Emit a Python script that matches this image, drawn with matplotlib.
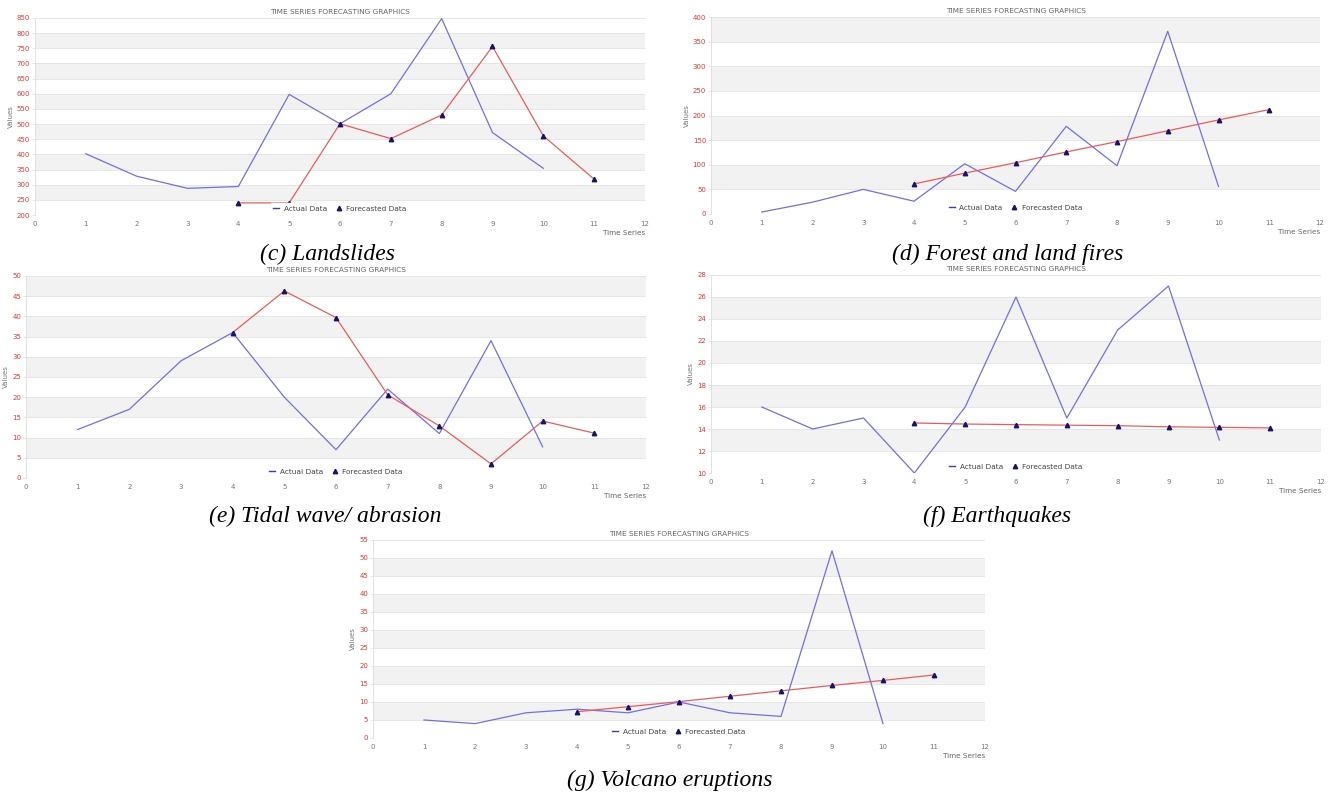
import numpy as np
import matplotlib
matplotlib.use('Agg')
import matplotlib.pyplot as plt
from matplotlib.lines import Line2D

### -------- data ---------------------------------------
x_actual = [1, 2, 3, 4, 5, 6, 7, 8, 9, 10]
x_forecast = [4, 5, 6, 7, 8, 9, 10, 11]

land_actual = [402, 328, 288, 294, 598, 501, 600, 848, 472, 354]
land_forecast = [240, 240, 501, 452, 530, 756, 461, 318]

fire_actual = [4, 24, 50, 26, 102, 46, 178, 98, 371, 56]
fire_forecast = [61, 83, 104, 126, 147, 169, 191, 212]

tidal_actual = [12, 17, 29, 36, 20, 7, 22, 11, 34, 7.7]
tidal_forecast = [36, 46.3, 39.7, 20.6, 12.9, 3.5, 14.1, 11.1]

quake_actual = [16, 14, 15, 10, 16, 26, 15, 23, 27, 13]
quake_forecast = [14.55, 14.45, 14.4, 14.35, 14.3, 14.2, 14.15, 14.1]

volc_actual = [5, 4, 7, 8, 7, 10, 7, 6, 52, 4]
volc_forecast = [7.3, 8.7, 10.1, 11.6, 13.1, 14.6, 16.0, 17.5]

captions = ['(c) Landslides', '(d) Forest and land fires', '(e) Tidal wave/ abrasion',
	'(f) Earthquakes', '(g) Volcano eruptions']

W, H = 1333, 795
TITLE = 'TIME SERIES FORECASTING GRAPHICS'


##### ----------------------
def panel(fig, box, actual, forecast, ymin, ymax, ystep):
	l, r, t, b = box
	ax = fig.add_axes([l/W, 1-b/H, (r-l)/W, (b-t)/H])
	ax.set_xlim(0, 12)
	ax.set_ylim(ymin, ymax)

	yt = np.arange(ymin, ymax + ystep/2.0, ystep)
	for i in range(len(yt)-1):
		if i % 2 == 1:
			ax.axhspan(yt[i], yt[i+1], color='#f2f2f2', lw=0, zorder=0)
	for y in yt:
		ax.axhline(y, color='#e3e3e3', lw=0.6, zorder=0.5)

	ax.plot(x_actual, actual, color='#7070e4', lw=0.9, zorder=2)
	ax.plot(x_forecast, forecast, color='#ea5c5c', lw=0.9, zorder=3)
	ax.plot(x_forecast, forecast, ls='none', marker='^', ms=3.2, color='#14146e', zorder=4)

	ax.set_xticks(range(0, 13))
	ax.set_yticks(yt)
	ax.set_yticklabels(['%g' % v for v in yt])
	ax.tick_params(axis='y', length=2, width=0.5, color='#dddddd', labelsize=5,
		labelcolor='#e03838', pad=1.5)
	ax.tick_params(axis='x', length=0, labelsize=5, labelcolor='#777777', pad=4)
	for s in ax.spines.values():
		s.set_visible(False)
	ax.spines['left'].set_visible(True)
	ax.spines['left'].set_color('#dddddd')
	ax.spines['left'].set_linewidth(0.6)

	ax.set_ylabel('Values', fontsize=5, color='#777777', labelpad=2)
	ax.set_title(TITLE, fontsize=5.3, color='#666666', pad=3)
	ax.annotate('Time Series', xy=(1, 0), xycoords='axes fraction', xytext=(0, -11),
		textcoords='offset points', ha='right', va='top', fontsize=5.2, color='#666666')

	handles = [Line2D([], [], color='#3c3cc8', lw=1.0),
		Line2D([], [], ls='none', marker='^', ms=3.2, color='#14146e')]
	leg = ax.legend(handles, ['Actual Data', 'Forecasted Data'], loc='lower center', ncol=2,
		fontsize=5.3, frameon=True, fancybox=False, framealpha=1, facecolor='white',
		edgecolor='white', handlelength=0.8, handletextpad=0.6, columnspacing=1.2,
		borderpad=0.4, borderaxespad=0.0)
	for txt in leg.get_texts():
		txt.set_color('#444444')
	leg.set_zorder(5)
	return ax


##### ----------------------
def main():
	plt.rc('font', family='DejaVu Sans')
	fig = plt.figure(figsize=(W/100.0, H/100.0), dpi=100)

	panel(fig, (35, 645, 18, 215), land_actual, land_forecast, 200, 850, 50)
	panel(fig, (711, 1320, 17, 214), fire_actual, fire_forecast, 0, 400, 50)
	panel(fig, (26, 646, 276, 478), tidal_actual, tidal_forecast, 0, 50, 5)
	panel(fig, (711, 1321, 275, 473), quake_actual, quake_forecast, 10, 28, 2)
	panel(fig, (373, 985, 540, 738), volc_actual, volc_forecast, 0, 55, 5)

	cap_pos = [(328, 254), (1008, 254), (325, 516), (997, 516), (670, 780)]
	for c, (cx, cy) in zip(captions, cap_pos):
		fig.text(cx/W, 1-cy/H, c, ha='center', va='center', fontsize=17,
			family='Liberation Serif', style='italic')

	fig.savefig('out.png', dpi=100)
	plt.close()


if __name__ == '__main__':
	main()
